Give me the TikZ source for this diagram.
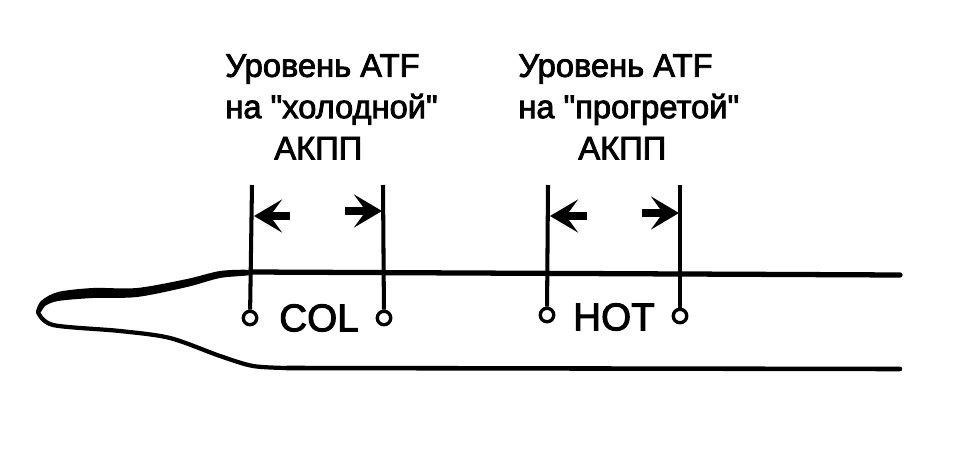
\documentclass[tikz,border=0pt]{standalone}
\usepackage{fontspec}
\setmainfont[Ligatures=TeXOff]{Liberation Sans}
\font\captionfont="Liberation Sans:embolden=2.5" at 18.6pt
\font\bandfont="Liberation Sans:embolden=2.5" at 22pt
\usepackage{tikz}
\usetikzlibrary{arrows.meta}
\tikzstyle{caption} = [align=left, anchor=north west, inner sep=0pt, font=\fontsize{18.6}{23.5}\selectfont\captionfont]
\tikzstyle{band} = [font=\fontsize{22}{27}\selectfont\bandfont, inner sep=0pt]
\tikzstyle{hole} = [circle, draw=black, line width=1.9pt, fill=white, minimum size=0.27cm, inner sep=0pt]
\tikzstyle{level} = [line width=2.3pt]
\tikzstyle{arrow} = [line width=4.2pt, -{Stealth[length=0.56cm, width=0.66cm, inset=0.24cm]}]
\tikzstyle{wall} = [line width=3pt, line cap=round, line join=round]
\begin{document}
\begin{tikzpicture}[x=0.02cm, y=-0.02cm]
        \useasboundingbox (0,0) rectangle (960,453);
        % Nodes
        \node (cold_text) [caption] at (225,54) {Уровень ATF\\на "холодной"\\\hspace*{0.98cm}АКПП};
        \node (hot_text) [caption] at (518,54) {Уровень ATF\\на "прогретой"\\\hspace*{1.2cm}АКПП};
        \node (col_label) [band] at (319,318) {COL};
        \node (hot_label) [band] at (614,317) {HOT};
        \node (cold_min) [hole] at (250,318) {};
        \node (cold_max) [hole] at (384,318) {};
        \node (hot_min) [hole] at (547,315) {};
        \node (hot_max) [hole] at (680,316) {};
        \coordinate (cold_min_top) at (252,185);
        \coordinate (cold_max_top) at (383,185);
        \coordinate (hot_min_top) at (548,185);
        \coordinate (hot_max_top) at (680,185);
        \coordinate (cold_left_tail) at (290,216);
        \coordinate (cold_left_tip) at (254,216);
        \coordinate (cold_right_tail) at (345,211);
        \coordinate (cold_right_tip) at (382,211);
        \coordinate (hot_left_tail) at (587,216);
        \coordinate (hot_left_tip) at (550,216);
        \coordinate (hot_right_tail) at (642,213);
        \coordinate (hot_right_tip) at (679,213);

        % Lines
        \draw [level] (cold_min_top) -- (cold_min);
        \draw [level] (cold_max_top) -- (cold_max);
        \draw [level] (hot_min_top) -- (hot_min);
        \draw [level] (hot_max_top) -- (hot_max);
        \draw [arrow] (cold_left_tail) -- (cold_left_tip);
        \draw [arrow] (cold_right_tail) -- (cold_right_tip);
        \draw [arrow] (hot_left_tail) -- (hot_left_tip);
        \draw [arrow] (hot_right_tail) -- (hot_right_tip);

        % Dipstick
        \fill [black] plot [smooth cycle, tension=0.5] coordinates {(36,312) (41,301) (58,292) (93,288) (137,288) (187,279) (220,271) (250,270) (250,275) (220,278) (187,287) (137,297) (93,298) (58,301) (45,306) (41,312)};
        \draw [wall] (250,272) -- (900,275);
        \draw [wall, line width=2.4pt] plot [smooth, tension=0.5] coordinates {(38,312) (53,325) (120,331) (170,338) (220,356) (253,366) (287,368)};
        \draw [wall, line width=2.6pt] (287,368) -- (900,369);
    \end{tikzpicture}
\end{document}
